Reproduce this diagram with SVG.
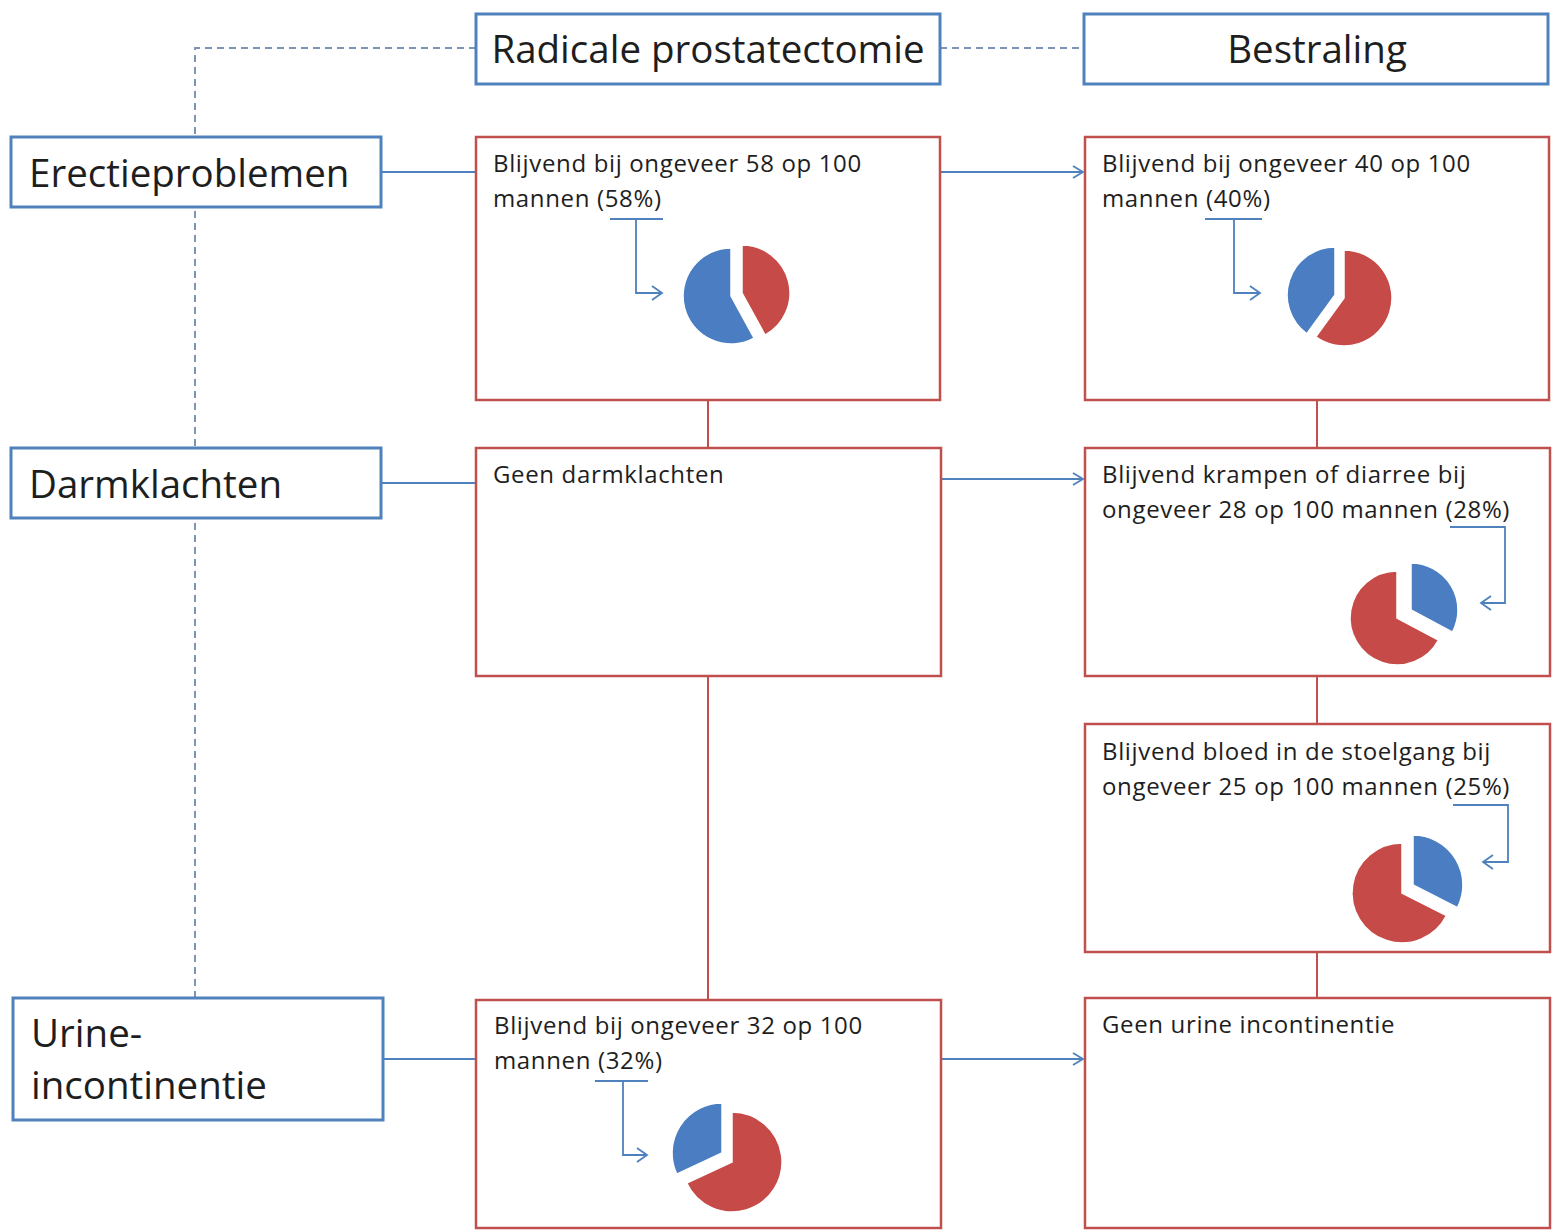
<svg xmlns="http://www.w3.org/2000/svg" width="1553" height="1230" viewBox="0 0 1553 1230">
<style>
.bg{fill:#fff}
.hb{fill:#fff;stroke:#4F81BD;stroke-width:3}
.rb{fill:#fff;stroke:#C0504D;stroke-width:2.5}
.t{font-family:"Open Sans","Liberation Sans",sans-serif;fill:#1e1e1e}
.big{font-size:38.5px}
.sm{font-size:24px;letter-spacing:0.65px}
.con{fill:none;stroke:#4F81BD;stroke-width:2}
.rl{fill:none;stroke:#C0504D;stroke-width:2}
.dash{fill:none;stroke:#7D93B8;stroke-width:2;stroke-dasharray:7,5}
.pb{fill:#4A7DC2;stroke:#fff;stroke-width:1.5}
.pr{fill:#C64B48;stroke:#fff;stroke-width:1.5}
.call{fill:none;stroke:#4F81BD;stroke-width:1.8}
</style>
<defs>
<marker id="ar" markerWidth="14" markerHeight="14" refX="12" refY="7" orient="auto" markerUnits="userSpaceOnUse">
<path d="M2,1 L12,7 L2,13" fill="none" stroke="#4F81BD" stroke-width="1.8"/>
</marker>
</defs>
<rect class="bg" x="0" y="0" width="1553" height="1230"/>
<g id="connectors">
<path class="dash" d="M476,48 H195 V997"/>
<path class="dash" d="M940,48 H1084"/>
<path class="con" d="M381,172 H476"/>
<path class="con" d="M940,172 H1083" marker-end="url(#ar)"/>
<path class="con" d="M381,483 H476"/>
<path class="con" d="M941,479 H1083" marker-end="url(#ar)"/>
<path class="con" d="M383,1059 H476"/>
<path class="con" d="M933,1059 H1083" marker-end="url(#ar)"/>
<path class="rl" d="M708,400 V448"/>
<path class="rl" d="M708,676 V1000"/>
<path class="rl" d="M1317,400 V448"/>
<path class="rl" d="M1317,676 V724"/>
<path class="rl" d="M1317,952 V998"/>
</g>
<g id="radicale">
<rect class="hb" x="476" y="14" width="464" height="70"/>
<text class="t big" x="708" y="63" text-anchor="middle">Radicale prostatectomie</text>
</g>
<g id="bestraling">
<rect class="hb" x="1084" y="14" width="464" height="70"/>
<text class="t big" x="1317" y="63" text-anchor="middle">Bestraling</text>
</g>
<g id="erectie">
<rect class="hb" x="11" y="137" width="370" height="70"/>
<text class="t big" x="29" y="187">Erectieproblemen</text>
</g>
<g id="darm">
<rect class="hb" x="11" y="448" width="370" height="70"/>
<text class="t big" x="29" y="498">Darmklachten</text>
</g>
<g id="urine">
<rect class="hb" x="13" y="998" width="370" height="122"/>
<text class="t big" x="31" y="1047">Urine-</text>
<text class="t big" x="31" y="1099">incontinentie</text>
</g>
<g id="rp-erectie">
<rect class="rb" x="476" y="137" width="464" height="263"/>
<text class="t sm" x="493" y="172">Blijvend bij ongeveer 58 op 100</text>
<text class="t sm" x="493" y="207">mannen (58%)</text>
<path class="call" d="M610,219 H663 M636,219 V293 H661" />
<path class="call" d="M652,286 L662,293 L652,300"/>
<path class="pb" d="M731,296 L754.1,338.1 A48,48 0 1,1 731,248 Z"/>
<path class="pr" d="M742,293 L742,245 A48,48 0 0,1 765.1,335.1 Z"/>
</g>
<g id="be-erectie">
<rect class="rb" x="1085" y="137" width="464" height="263"/>
<text class="t sm" x="1102" y="172">Blijvend bij ongeveer 40 op 100</text>
<text class="t sm" x="1102" y="207">mannen (40%)</text>
<path class="call" d="M1205,219 H1262 M1234,219 V293 H1259"/>
<path class="call" d="M1250,286 L1260,293 L1250,300"/>
<path class="pr" d="M1344,298 L1344,250 A48,48 0 1,1 1315.8,336.8 Z"/>
<path class="pb" d="M1335,295 L1306.8,333.8 A48,48 0 0,1 1335,247 Z"/>
</g>
<g id="rp-darm">
<rect class="rb" x="476" y="448" width="465" height="228"/>
<text class="t sm" x="493" y="483">Geen darmklachten</text>
</g>
<g id="be-darm1">
<rect class="rb" x="1085" y="448" width="465" height="228"/>
<text class="t sm" x="1102" y="483">Blijvend krampen of diarree bij</text>
<text class="t sm" x="1102" y="518">ongeveer 28 op 100 mannen (28%)</text>
<path class="call" d="M1450,527 H1505 V603 H1481"/>
<path class="call" d="M1491,596 L1481,603 L1491,610"/>
<path class="pr" d="M1397,618 L1438.5,640.1 A47,47 0 1,1 1397,571 Z"/>
<path class="pb" d="M1411,610 L1411,563 A47,47 0 0,1 1452.5,632.1 Z"/>
</g>
<g id="be-darm2">
<rect class="rb" x="1085" y="724" width="465" height="228"/>
<text class="t sm" x="1102" y="760">Blijvend bloed in de stoelgang bij</text>
<text class="t sm" x="1102" y="795">ongeveer 25 op 100 mannen (25%)</text>
<path class="call" d="M1453,805 H1508 V862 H1483"/>
<path class="call" d="M1493,855 L1483,862 L1493,869"/>
<path class="pr" d="M1402,893 L1446.5,915.7 A50,50 0 1,1 1402,843 Z"/>
<path class="pb" d="M1413,885 L1413,835 A50,50 0 0,1 1457.5,907.7 Z"/>
</g>
<g id="rp-urine">
<rect class="rb" x="476" y="1000" width="465" height="228"/>
<text class="t sm" x="494" y="1034">Blijvend bij ongeveer 32 op 100</text>
<text class="t sm" x="494" y="1069">mannen (32%)</text>
<path class="call" d="M595,1081 H648 M623,1081 V1155 H646"/>
<path class="call" d="M637,1148 L647,1155 L637,1162"/>
<path class="pr" d="M732,1162 L732,1112 A50,50 0 1,1 686.7,1183.1 Z"/>
<path class="pb" d="M722,1153 L676.7,1174.1 A50,50 0 0,1 722,1103 Z"/>
</g>
<g id="be-urine">
<rect class="rb" x="1085" y="998" width="465" height="230"/>
<text class="t sm" x="1102" y="1033">Geen urine incontinentie</text>
</g>
</svg>
